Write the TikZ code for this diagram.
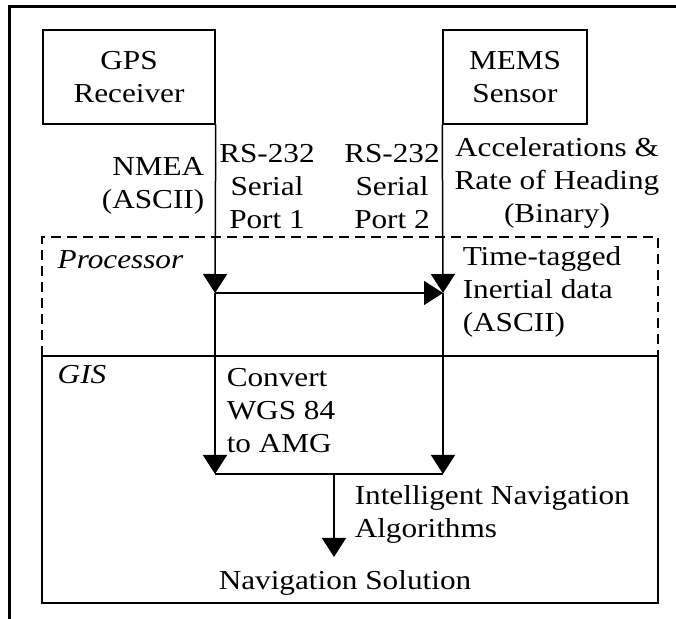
\documentclass[tikz,border=0pt]{standalone}
\usepackage{fontspec}
\setmainfont[FakeStretch=1.14]{Liberation Serif}
\usetikzlibrary{arrows.meta}

\begin{document}
\begin{tikzpicture}[x=0.5pt,y=-0.5pt,line width=0.75pt,
  font=\fontsize{13.7}{16.5}\selectfont]

%
% Styles
%
\tikzstyle{every node} = [inner sep=0pt]
\tikzstyle{unit} = [rectangle,draw,align=center,minimum height=47pt]
\tikzstyle{flow} = [-{Triangle[width=12pt,length=9.5pt]}]
\tikzstyle{region} = [dash pattern=on 5pt off 3pt]

\useasboundingbox (0,0) rectangle (676,619);

% frame and regions
\draw[line width=1.5pt] (9,619) -- (9,7) -- (676,7);
\draw[region] (42,356) -- (42,237) -- (658,237) -- (658,356);
\draw (42,356) rectangle (658,603);

\node[unit,minimum width=86pt] (gps)  at (129,77) {GPS\\Receiver};
\node[unit,minimum width=72pt] (mems) at (515,77) {MEMS\\Sensor};

\coordinate (p1) at (215,293);
\coordinate (p2) at (443,293);
\coordinate (g1) at (215,474);
\coordinate (g2) at (443,474);
\coordinate (g3) at (334,474);
\coordinate (g4) at (334,557);

\node[anchor=east,align=right] (nmea)  at (205,186) {NMEA\\(ASCII)};
\node[align=center]            (port1) at (267,187) {RS-232\\Serial\\Port 1};
\node[align=center]            (port2) at (392,187) {RS-232\\Serial\\Port 2};
\node[align=center]            (accel) at (557,183) {Accelerations \&\\Rate of Heading\\(Binary)};
\node[anchor=west,align=left]  (inert) at (462,292) {Time-tagged\\Inertial data\\(ASCII)};
\node[anchor=west]             (proc)  at (57,260)  {\textit{Processor}};
\node[anchor=west]             (gis)   at (57,375)  {\textit{GIS}};
\node[anchor=west,align=left]  (conv)  at (226,411) {Convert\\WGS 84\\to AMG};
\node[anchor=west,align=left]  (algo)  at (354,514) {Intelligent Navigation\\Algorithms};
\node                          (nav)   at (345,583) {Navigation Solution};

\draw[flow] (gps.south east) -- (p1);
\draw[flow] (mems.south west) -- (p2);
\draw[flow] (p1) -- (p2);
\draw[flow] (p1) -- (g1);
\draw[flow] (p2) -- (g2);
\draw (g1) -- (g2);
\draw[flow] (g3) -- (g4);

\end{tikzpicture}
\end{document}
